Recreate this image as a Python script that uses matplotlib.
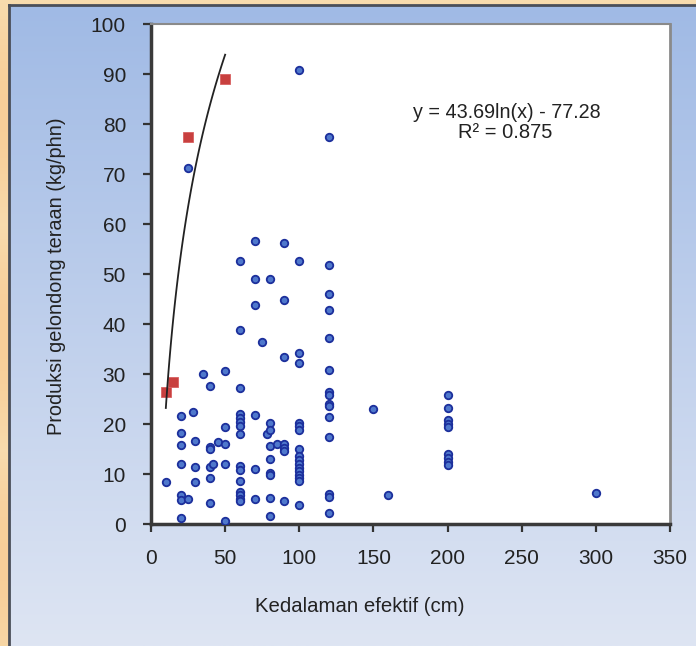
import numpy as np
import matplotlib
matplotlib.use("Agg")
import matplotlib.pyplot as plt
from matplotlib import font_manager as fm

# ---------------- data ----------------
blue_x = [10,
          20, 20, 20, 20, 20, 20, 20,
          25, 25, 28,
          30, 30, 30, 35,
          40, 40, 40, 40, 40, 40, 42, 45,
          50, 50, 50, 50, 50,
          60, 60, 60, 60, 60, 60, 60, 60, 60, 60, 60, 60, 60, 60, 60,
          70, 70, 70, 70, 70, 70, 75, 78,
          80, 80, 80, 80, 80, 80, 80, 80, 80, 85,
          90, 90, 90, 90, 90, 90, 90,
          100, 100, 100, 100, 100, 100, 100, 100, 100, 100, 100, 100, 100, 100, 100, 100, 100,
          120, 120, 120, 120, 120, 120, 120, 120, 120, 120, 120, 120, 120, 120, 120,
          150, 160,
          200, 200, 200, 200, 200, 200, 200, 200, 200,
          300]
blue_y = [8.5,
          21.7, 18.3, 15.9, 12.0, 5.8, 4.8, 1.3,
          71.3, 5.0, 22.5,
          16.6, 11.5, 8.5, 30.0,
          27.6, 15.5, 15.0, 11.5, 9.3, 4.3, 12.0, 16.5,
          30.6, 19.5, 16.0, 12.0, 0.7,
          52.7, 38.8, 27.3, 22.1, 21.3, 20.5, 19.6, 18.1, 11.6, 10.8, 8.6, 6.5, 5.8, 5.1, 4.6,
          56.6, 49.1, 43.9, 21.9, 11.0, 5.1, 36.5, 18.1,
          49.1, 20.3, 18.9, 15.6, 13.0, 10.3, 9.8, 5.3, 1.6, 16.0,
          56.3, 44.9, 33.5, 16.0, 15.3, 14.7, 4.6,
          90.9, 52.7, 34.3, 32.3, 20.3, 19.6, 18.8, 15.1, 13.7, 12.9, 12.1, 11.3, 10.6, 9.9, 9.2, 8.6, 3.9,
          77.4, 51.9, 46.0, 42.9, 37.3, 30.9, 26.5, 25.8, 24.1, 23.6, 21.5, 17.5, 6.1, 5.5, 2.3,
          23.1, 5.9,
          25.8, 23.3, 20.8, 20.1, 19.5, 14.1, 13.3, 12.5, 11.8,
          6.3]

red_x = [10, 15, 25, 50]
red_y = [26.5, 28.5, 77.5, 89.0]

x_ticks = [0, 50, 100, 150, 200, 250, 300, 350]
y_ticks = [0, 10, 20, 30, 40, 50, 60, 70, 80, 90, 100]

x_label = "Kedalaman efektif (cm)"
y_label = "Produksi gelondong teraan (kg/phn)"
eq_text = "y = 43.69ln(x) - 77.28"
r2_text = "R² = 0.875"

# ---------------- fonts ----------------
avail = {f.name for f in fm.fontManager.ttflist}
fam = [f for f in ["Liberation Sans Narrow", "Liberation Sans", "DejaVu Sans"] if f in avail]
plt.rcParams['font.family'] = fam

W, H = 696, 646
fig = plt.figure(figsize=(W / 100, H / 100), dpi=100)
fig.patch.set_facecolor("#f6dcaf")

# tan/orange frame texture on left strip
bg0 = fig.add_axes([0, 0, 1, 1], zorder=-3)
bg0.axis("off")
yy = np.linspace(0, 1, 200)[:, None]
xx = np.linspace(0, 1, 40)[None, :]
tan = np.ones((200, 40, 3))
tan[..., 0] = 0.97
tan[..., 1] = 0.86 - 0.05 * np.abs(np.sin(yy * 9)) * np.ones_like(xx)
tan[..., 2] = 0.68 - 0.08 * np.abs(np.sin(yy * 9)) * np.ones_like(xx)
bg0.imshow(tan, aspect="auto", extent=[0, 1, 0, 1])
bg0.set_xlim(0, 1)
bg0.set_ylim(0, 1)

# blue gradient panel
px0, py_top = 9, 5
bg = fig.add_axes([px0 / W, 0, 1 - px0 / W, 1 - py_top / H], zorder=-2)
top = np.array([160, 186, 229]) / 255
bot = np.array([222, 229, 243]) / 255
t = np.linspace(0, 1, 256)[:, None]
grad = top[None, :] * (1 - t) + bot[None, :] * t
bg.imshow(grad[:, None, :], aspect="auto", extent=[0, 1, 0, 1])
bg.set_xlim(0, 1)
bg.set_ylim(0, 1)
bg.set_xticks([])
bg.set_yticks([])
for s in ["right", "bottom"]:
    bg.spines[s].set_visible(False)
for s in ["left", "top"]:
    bg.spines[s].set_color("#4a4e58")
    bg.spines[s].set_linewidth(2.0)

# ---------------- main axes ----------------
x0p, x1p, y0p, y1p = 151, 670, 524, 24
ax = fig.add_axes([x0p / W, 1 - y0p / H, (x1p - x0p) / W, (y0p - y1p) / H])
ax.set_facecolor("white")
ax.set_xlim(0, 350)
ax.set_ylim(0, 100)

ax.plot(blue_x, blue_y, linestyle="none", marker="o", ms=5.4,
        mfc="#4f78cc", mec="#1c2f9c", mew=1.3, zorder=3)
ax.plot(red_x, red_y, linestyle="none", marker="s", ms=6.8,
        mfc="#c8403f", mec="#d86060", mew=0.6, zorder=3)

# logarithmic trendline fitted to the red series
b, a = np.polyfit(np.log(red_x), red_y, 1)
tx = np.linspace(min(red_x), max(red_x), 100)
ax.plot(tx, b * np.log(tx) + a, color="#222222", lw=1.3, zorder=4)

ax.set_xticks(x_ticks)
ax.set_yticks(y_ticks)
ax.tick_params(axis="both", direction="out", length=6, width=1.6,
               color="#333333", labelsize=15, labelcolor="#222222")
ax.tick_params(axis="y", pad=12)
ax.tick_params(axis="x", pad=12)

ax.spines["left"].set_color("#3a3a3a")
ax.spines["left"].set_linewidth(2.5)
ax.spines["bottom"].set_color("#3a3a3a")
ax.spines["bottom"].set_linewidth(2.5)
ax.spines["top"].set_color("#8a8a8a")
ax.spines["top"].set_linewidth(1.5)
ax.spines["right"].set_color("#8a8a8a")
ax.spines["right"].set_linewidth(2.0)

fig.text(360 / W, 1 - 606 / H, x_label, ha="center", va="center",
         fontsize=14.7, color="#222222")
fig.text(56 / W, 1 - 276 / H, y_label, ha="center", va="center",
         rotation=90, fontsize=14.3, color="#222222")

fig.text(507 / W, 1 - 113 / H, eq_text, ha="center", va="center",
         fontsize=14.2, color="#222222")
fig.text(505 / W, 1 - 132 / H, r2_text, ha="center", va="center",
         fontsize=14.5, color="#222222")

fig.savefig("out.png", dpi=100)
